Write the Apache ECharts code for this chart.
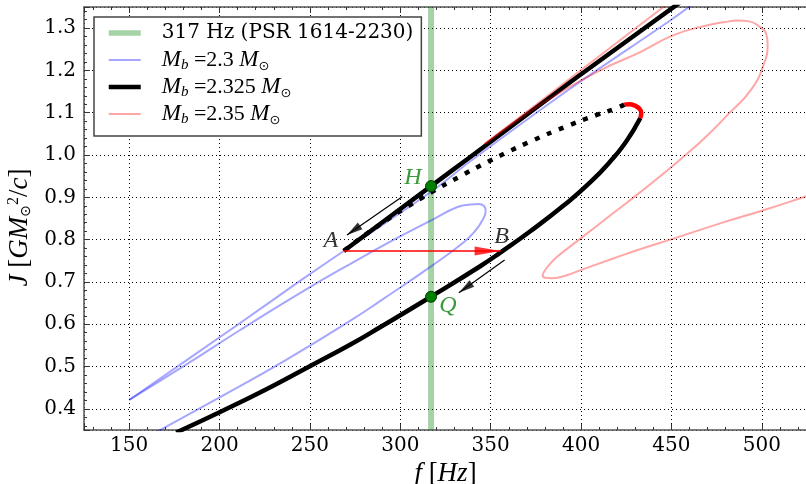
<!DOCTYPE html>
<html>
<head>
<meta charset="utf-8">
<title>J(f) sequences</title>
<script src="https://cdn.jsdelivr.net/npm/echarts@6.0.0/dist/echarts.min.js"></script>
<style>
  html, body { margin: 0; padding: 0; background: #fff; }
  #chart { width: 806px; height: 484px; }
</style>
</head>
<body>
<div id="chart"></div>
<script>
// Axis extents: spin frequency f [Hz] and angular momentum J [G Msun^2 / c]
const fExtent = [125, 525];
const jExtent = [0.35, 1.35];

// Spin frequency of PSR 1614-2230
const pulsarFreq = 317;

// Mb = 2.3 Msun: rising branch, loop, and return to the 150 Hz end
const mb230Loop = [
  [164.0, 0.3425], [200.3, 0.4280], [236.4, 0.5148], [272.4, 0.6086], [289.0, 0.6554],
  [317.6, 0.7387], [335.1, 0.7940], [341.6, 0.8216], [345.5, 0.8465], [347.2, 0.8677],
  [346.3, 0.8795], [343.3, 0.8843], [338.9, 0.8831], [331.6, 0.8772], [317.6, 0.8468],
  [300.1, 0.8081], [272.4, 0.7429], [244.7, 0.6743], [211.4, 0.5864], [181.0, 0.5032],
  [150.0, 0.4210]
];
// Mb = 2.3 Msun: upper branch leaving the 150 Hz end
const mb230Upper = [
  [150.0, 0.4210], [211.4, 0.6030], [244.7, 0.7030], [268.7, 0.7732], [317.6, 0.9150],
  [338.9, 0.9859], [394.3, 1.1578], [449.7, 1.3193], [463.0, 1.3605]
];

// Mb = 2.325 Msun: lower branch, turning point, unstable branch, upper branch
const mb2325Lower = [
  [176.0, 0.3438], [179.1, 0.3500], [200.3, 0.3926], [226.2, 0.4469], [250.2, 0.5013],
  [272.4, 0.5521], [289.0, 0.5935], [317.6, 0.6668], [344.4, 0.7377], [355.5, 0.7699],
  [372.1, 0.8204], [390.5, 0.8812], [405.3, 0.9363], [418.2, 0.9947], [423.6, 1.0238],
  [427.5, 1.0486], [430.5, 1.0699], [432.8, 1.0876]
];
const mb2325Turn = [
  [432.8, 1.0876], [433.3, 1.0994], [432.2, 1.1100], [429.7, 1.1171], [426.7, 1.1200],
  [423.9, 1.1192]
];
const mb2325Unstable = [
  [423.9, 1.1192], [418.2, 1.1086], [409.0, 1.0954], [390.5, 1.0654], [373.9, 1.0356],
  [359.2, 1.0067], [344.4, 0.9753], [333.3, 0.9502], [317.6, 0.9129], [301.9, 0.8727],
  [289.0, 0.8363], [277.9, 0.8032], [268.7, 0.7732]
];
const mb2325Upper = [
  [268.7, 0.7732], [317.0, 0.9266], [338.9, 0.9961], [394.3, 1.1734], [455.0, 1.3616]
];

// Mb = 2.35 Msun: straight upper branch and the large loop
const mb235Upper = [
  [346.6, 1.0260], [394.3, 1.1820], [445.9, 1.3510], [449.0, 1.3610]
];
const mb235Loop = [
  [346.6, 1.026], [366.6, 1.088], [388.7, 1.149], [410.9, 1.201], [433.0, 1.244],
  [451.5, 1.284], [470.0, 1.307], [479.0, 1.314], [486.6, 1.318], [493.0, 1.316],
  [498.5, 1.304], [502.3, 1.288], [503.2, 1.264], [501.3, 1.217], [494.0, 1.154],
  [482.0, 1.099], [470.0, 1.047], [457.0, 0.997], [444.1, 0.951], [433.0, 0.913],
  [418.2, 0.864], [399.8, 0.803], [386.9, 0.760], [382.5, 0.741], [379.8, 0.726],
  [378.8, 0.716], [380.2, 0.710], [384.0, 0.709], [392.0, 0.716], [399.8, 0.728],
  [418.2, 0.756], [433.0, 0.778], [451.5, 0.803], [477.4, 0.839], [501.3, 0.870],
  [525.0, 0.903], [532.0, 0.913]
];

// Marked configurations
const pointH = [317, 0.9266];
const pointQ = [317, 0.665];
const pointA = [268.7, 0.7732];
const pointB = [355.5, 0.7732];

// Evolution arrows as [tail, head]
const jumpArrow = [pointA, pointB];
const upperArrow = [[301.0, 0.9015], [270.5, 0.8110]];
const lowerArrow = [[357.7, 0.7519], [332.4, 0.6746]];

// Legend entries
const seriesNames = ['317 Hz (PSR 1614-2230)', 'Mb 2.3', 'Mb 2.325', 'Mb 2.35'];
const massLabels = ['2.3', '2.325', '2.35'];

const greenA = 'rgba(0,128,0,0.35)';
const blueA = 'rgba(0,0,255,0.35)';
const redA = 'rgba(255,0,0,0.35)';

const mathItalic = { fontFamily: 'Liberation Serif', fontStyle: 'italic' };

function legendText(name) {
  const k = seriesNames.indexOf(name);
  if (k === 0) return name;
  return '{m|M}{sb|b}{n| =' + massLabels[k - 1] + ' }{m|M}{so|\u2299}';
}

function curve(name, data, color, width, extra) {
  return Object.assign({
    type: 'line',
    name: name,
    data: data,
    symbol: 'none',
    showSymbol: false,
    smooth: 0.5,
    silent: true,
    clip: true,
    animation: false,
    lineStyle: { color: color, width: width, cap: 'butt', join: 'round' },
    itemStyle: { color: color }
  }, extra || {});
}

const chart = echarts.init(document.getElementById('chart'));

const tickFont = { fontFamily: 'DejaVu Serif', fontSize: 20, color: '#000' };
const spine = { show: true, onZero: false, lineStyle: { color: '#555', width: 1.5 } };
const majorTick = { show: true, inside: true, length: 6, lineStyle: { color: '#333', width: 1 } };
const minorTickStyle = { show: true, splitNumber: 5, length: 3, lineStyle: { color: '#333', width: 1 } };
const gridDots = { show: true, lineStyle: { type: [1, 3], color: '#000', width: 1 } };

const nameRich = {
  i: Object.assign({ fontSize: 27, color: '#000' }, mathItalic),
  r: { fontFamily: 'Liberation Serif', fontSize: 27, color: '#000' },
  sup: { fontFamily: 'Liberation Serif', fontSize: 16, color: '#000', verticalAlign: 'top', lineHeight: 14 },
  sub: { fontFamily: 'DejaVu Sans', fontSize: 14, color: '#000', verticalAlign: 'bottom', lineHeight: 12 },
  gap: { fontSize: 10, width: 18 }
};

const option = {
  animation: false,
  backgroundColor: '#fff',
  grid: { left: 84, top: 7, right: -1, bottom: 54, containLabel: false, outerBoundsMode: 'none' },
  legend: {
    data: [
      { name: seriesNames[0], lineStyle: { width: 5.5 } },
      { name: seriesNames[1], lineStyle: { width: 2 } },
      { name: seriesNames[2], lineStyle: { width: 4.5 } },
      { name: seriesNames[3], lineStyle: { width: 2 } }
    ],
    orient: 'vertical',
    left: 94,
    top: 17,
    padding: [3, 8, 9, 12],
    itemGap: 1,
    itemWidth: 32,
    itemHeight: 8,
    backgroundColor: '#fff',
    borderColor: '#444',
    borderWidth: 1.5,
    selectedMode: false,
    formatter: legendText,
    itemStyle: { opacity: 0 },
    lineStyle: { width: 'inherit' },
    textStyle: {
      fontFamily: 'DejaVu Serif', fontSize: 20, color: '#000', lineHeight: 26,
      padding: [0, 0, 0, 16],
      rich: {
        m: Object.assign({ fontSize: 23, color: '#000', lineHeight: 26 }, mathItalic),
        sb: Object.assign({ fontSize: 15, color: '#000', lineHeight: 12, verticalAlign: 'bottom' }, mathItalic),
        n: { fontFamily: 'Liberation Serif', fontSize: 22, color: '#000', lineHeight: 26 },
        so: { fontFamily: 'DejaVu Sans', fontSize: 13, color: '#000', lineHeight: 12, verticalAlign: 'bottom' }
      }
    }
  },
  xAxis: [{
    type: 'value',
    min: fExtent[0], max: fExtent[1], splitNumber: 8,
    axisLine: spine, axisTick: majorTick, minorTick: minorTickStyle,
    axisLabel: Object.assign({ margin: 6, showMinLabel: false, showMaxLabel: false }, tickFont),
    splitLine: gridDots,
    name: '{i|f }{r|[}{i|Hz}{r|]}',
    nameLocation: 'middle', nameGap: 19,
    nameTextStyle: { rich: nameRich }
  }, {
    type: 'value', position: 'top',
    min: fExtent[0], max: fExtent[1], splitNumber: 8,
    axisLine: spine, axisTick: majorTick, minorTick: minorTickStyle,
    axisLabel: { show: false }, splitLine: { show: false }
  }],
  yAxis: {
    type: 'value',
    min: jExtent[0], max: jExtent[1], splitNumber: 10,
    axisLine: spine, axisTick: majorTick, minorTick: minorTickStyle,
    axisLabel: Object.assign({
      margin: 8, showMinLabel: false, showMaxLabel: false,
      formatter: function (v) { return v.toFixed(1); }
    }, tickFont),
    splitLine: gridDots,
    name: '{i|J }{r|[}{i|GM}{sub|\u2299}{sup|2}{r|/}{i|c}{r|]}{gap| }',
    nameLocation: 'middle', nameRotate: 90, nameGap: 41,
    nameTextStyle: { rich: nameRich }
  },
  series: [
    curve(seriesNames[0], [[pulsarFreq, jExtent[0]], [pulsarFreq, jExtent[1]]], greenA, 6, { smooth: false }),
    curve(seriesNames[1], mb230Loop, blueA, 2),
    curve(seriesNames[1], mb230Upper, blueA, 2, { smooth: 0.3 }),
    curve(seriesNames[2], mb2325Lower, '#000', 4.5),
    curve('turning point', mb2325Turn, '#ff0000', 4.5),
    curve('unstable branch', mb2325Unstable, '#000', 4.5, {
      lineStyle: { color: '#000', width: 4.5, type: [5, 8], cap: 'butt' }
    }),
    curve(seriesNames[2], mb2325Upper, '#000', 4.5, { smooth: 0.1 }),
    curve(seriesNames[3], mb235Upper, redA, 2, { smooth: 0.1 }),
    curve(seriesNames[3], mb235Loop, redA, 2),
    curve('jump', jumpArrow, '#ff0000', 1.5, { smooth: false }),
    curve('upper drift', upperArrow, '#000', 1.2, { smooth: false }),
    curve('lower drift', lowerArrow, '#000', 1.2, { smooth: false }),
    {
      id: 'heads', type: 'scatter', silent: true, animation: false,
      symbol: 'path://M5,0 L10,20 L0,20 Z', data: [], z: 4
    },
    {
      type: 'scatter', name: 'states', silent: true, animation: false, z: 5,
      symbolSize: 11,
      itemStyle: { color: '#008000', borderColor: '#003d00', borderWidth: 1, opacity: 1 },
      label: Object.assign({ show: true, position: 'inside', color: '#3a9a3a', fontSize: 24 }, mathItalic),
      data: [
        { value: pointH, label: { formatter: 'H', offset: [-18, -8] } },
        { value: pointQ, label: { formatter: 'Q', offset: [17, 9] } }
      ]
    },
    {
      type: 'scatter', name: 'jump ends', silent: true, animation: false, z: 5,
      symbolSize: 0,
      label: Object.assign({ show: true, position: 'inside', color: '#000', fontSize: 24 }, mathItalic),
      data: [
        { value: pointA, label: { formatter: 'A', offset: [-13, -10] } },
        { value: pointB, label: { formatter: 'B', offset: [1, -14] } }
      ]
    }
  ]
};

chart.setOption(option);

// Arrow heads: oriented along each arrow in screen space, tip on the arrow end
const headSpecs = [
  { seg: jumpArrow, color: '#ff0000', w: 9, h: 26 },
  { seg: upperArrow, color: '#000', w: 8, h: 16 },
  { seg: lowerArrow, color: '#000', w: 8, h: 16 }
];
const finder = { xAxisIndex: 0, yAxisIndex: 0 };
const heads = headSpecs.map(function (s) {
  const p0 = chart.convertToPixel(finder, s.seg[0]);
  const p1 = chart.convertToPixel(finder, s.seg[1]);
  const dx = p1[0] - p0[0], dy = p1[1] - p0[1];
  const len = Math.hypot(dx, dy);
  const ux = dx / len, uy = dy / len;
  const phi = Math.atan2(-dy, dx) * 180 / Math.PI;
  return {
    value: s.seg[1],
    symbolSize: [s.w, s.h],
    symbolRotate: phi - 90,
    symbolOffset: [-ux * s.h / 2, -uy * s.h / 2],
    itemStyle: { color: s.color }
  };
});
chart.setOption({ series: [{ id: 'heads', data: heads }] });
</script>
</body>
</html>
